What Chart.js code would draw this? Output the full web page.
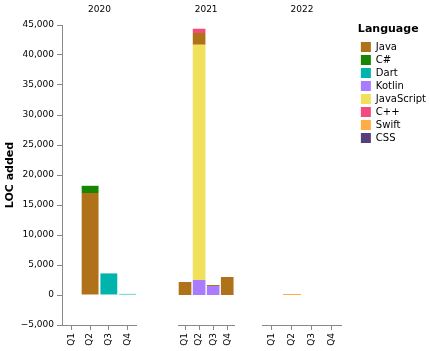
<!DOCTYPE html>
<html>
<head>
<meta charset="utf-8">
<script src="https://cdn.jsdelivr.net/npm/chart.js@4.4.1/dist/chart.umd.min.js"></script>
<style>
html, body { margin: 0; padding: 0; background: #fff; width: 430px; height: 351px; overflow: hidden; }
.facet { position: absolute; top: 0; }
.facet canvas { display: block; }
</style>
</head>
<body>
<div class="facet" style="left:0px"><canvas id="chart2020" width="142" height="351"></canvas></div>
<div class="facet" style="left:162px"><canvas id="chart2021" width="80" height="351"></canvas></div>
<div class="facet" style="left:262px"><canvas id="chart2022" width="174" height="351"></canvas></div>
<script>
/*----------------------------Data------------------------------------*/
var quarters = ['Q1', 'Q2', 'Q3', 'Q4'];
var years = ['2020', '2021', '2022'];
var languages = ['Java', 'C#', 'Dart', 'Kotlin', 'JavaScript', 'C++', 'Swift', 'CSS'];
var langColors = ['#b07219', '#178600', '#00b4ab', '#a97bff', '#f1e05a', '#f34b7d', '#ffac45', '#563d7c'];

// LOC added, 2020 Q1-Q4, 2021 Q1-Q4, 2022 Q1-Q4
var java       = [0, 17000, 0, 0,   2150, 1950, 170, 3000,   0, 0, 0, 0];
var csharp     = [0, 1200, 0, 0,    0, 0, 0, 0,              0, 0, 0, 0];
var dart       = [0, 0, 3600, 180,  0, 0, 0, 0,              0, 0, 0, 0];
var kotlin     = [0, 0, 0, 0,       0, 2500, 1500, 0,        0, 0, 0, 0];
var javascript = [0, 0, 0, 0,       0, 39200, 0, 0,          0, 0, 0, 0];
var cpp        = [0, 0, 0, 0,       0, 730, 0, 0,            0, 0, 0, 0];
var swift      = [0, 0, 0, 0,       0, 0, 0, 0,              0, 150, 0, 0];
var css        = [0, 0, 0, 0,       0, 0, 0, 0,              0, 0, 0, 0];

var yMin = -5000;
var yMax = 45000;
var yStep = 5000;

// bars stack bottom-up in this order
var stackOrder = ['Swift', 'Kotlin', 'JavaScript', 'Java', 'Dart', 'CSS', 'C++', 'C#'];
var locByLang = {
  'Java': java, 'C#': csharp, 'Dart': dart, 'Kotlin': kotlin,
  'JavaScript': javascript, 'C++': cpp, 'Swift': swift, 'CSS': css
};

Chart.defaults.font.family = 'DejaVu Sans';
Chart.defaults.color = '#000';

function makeDatasets(yi) {
  return stackOrder.map(function (name) {
    return {
      label: name,
      data: locByLang[name].slice(yi * 4, yi * 4 + 4),
      backgroundColor: langColors[languages.indexOf(name)],
      borderWidth: 0,
      barPercentage: 0.9,
      categoryPercentage: 1.0
    };
  });
}

function makeOptions(yi) {
  var first = yi === 0;
  var last = yi === years.length - 1;
  return {
    responsive: false,
    animation: false,
    layout: { padding: 0 },
    plugins: {
      tooltip: { enabled: false },
      legend: {
        display: last,
        position: 'right',
        align: 'start',
        maxWidth: 200,
        labels: {
          boxWidth: 10,
          boxHeight: 10,
          padding: 3,
          font: { size: 10 },
          color: '#000',
          sort: function (a, b) { return languages.indexOf(a.text) - languages.indexOf(b.text); }
        },
        title: {
          display: true,
          text: 'Language',
          position: 'start',
          color: '#000',
          font: { size: 11, weight: 'bold' },
          padding: { top: 23.4, bottom: 2.4 }
        }
      }
    },
    scales: {
      x: {
        stacked: true,
        offset: true,
        grid: { drawOnChartArea: false, offset: false, tickLength: 5, tickColor: '#888' },
        border: { color: '#888' },
        ticks: { minRotation: 90, maxRotation: 90, padding: 3, font: { size: 9 }, color: '#000' },
        afterFit: function (s) { s.height = 26; }
      },
      header: {
        type: 'category',
        labels: quarters,
        position: 'top',
        grid: { display: false, drawTicks: false },
        border: { display: false },
        ticks: { display: false },
        title: { display: true, text: years[yi], font: { size: 9 }, color: '#000', padding: { top: 4, bottom: 0 } },
        afterFit: function (s) { s.height = 25; }
      },
      y: {
        stacked: true,
        min: yMin,
        max: yMax,
        position: last ? 'right' : 'left',
        display: first || last,
        grid: { display: first, drawOnChartArea: false, tickLength: 5, tickColor: '#888' },
        border: { display: first, color: '#888' },
        ticks: {
          display: first,
          stepSize: yStep,
          padding: 3,
          font: { size: 9 },
          color: '#000',
          callback: function (v) { return (v < 0 ? '\u2212' : '') + Math.abs(v).toLocaleString('en-US'); }
        },
        title: { display: first, text: 'LOC added', font: { size: 11, weight: 'bold' }, color: '#000' },
        afterFit: function (s) { s.width = first ? 62 : 16; }
      }
    }
  };
}

/*----------------------------Facets------------------------------------*/
years.forEach(function (year, yi) {
  new Chart('chart' + year, {
    type: 'bar',
    data: { labels: quarters, datasets: makeDatasets(yi) },
    options: makeOptions(yi)
  });
});
</script>
</body>
</html>
